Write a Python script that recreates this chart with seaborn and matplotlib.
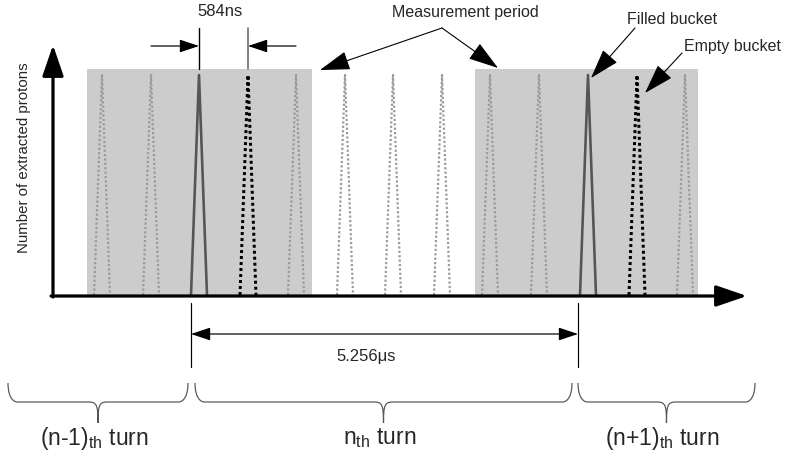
"""Bucket structure of the extracted beam: filled / empty buckets over three turns"""
import numpy as np
import pandas as pd
import seaborn as sns
from matplotlib import pyplot as plt
from matplotlib.patches import PathPatch, Rectangle
from matplotlib.path import Path

# bucket centres along the time axis (pixel units of the sketch) and their kind
bucket_x = [102, 151, 199, 248, 296, 345, 393, 442, 490, 539, 588, 637, 685]
bucket_kind = ["other", "other", "filled", "empty", "other", "other", "other",
               "other", "other", "other", "filled", "empty", "other"]
peak_y = 75
base_y = 295

# measurement windows (start, end)
windows = [(87, 312), (475, 698)]

# turn braces: (left, right, label)
turns = [(8, 188, r"(n-1)$_{\mathregular{th}}$ turn"),
         (195, 572, r"n$_{\mathregular{th}}$ turn"),
         (578, 755, r"(n+1)$_{\mathregular{th}}$ turn")]

bunch_spacing_label = "584ns"
revolution_label = "5.256\u03bcs"

PX = 72.0 / 100  # one pixel in points

sns.set_theme(style="white")
plt.rcParams["font.family"] = ["Liberation Sans", "DejaVu Sans"]
plt.rcParams["mathtext.fontset"] = "custom"
plt.rcParams["mathtext.rm"] = "Liberation Sans"

fig = plt.figure(figsize=(7.87, 4.58), dpi=100)
ax = fig.add_axes([0, 0, 1, 1])
ax.set_xlim(0, 787)
ax.set_ylim(458, 0)
ax.axis("off")

for x0, x1 in windows:
    ax.add_patch(Rectangle((x0, 69), x1 - x0, base_y - 69, color="#cccccc", lw=0, zorder=0))

rows = []
for i, (c, k) in enumerate(zip(bucket_x, bucket_kind)):
    for dx, y in [(-8, base_y), (0, peak_y), (8, base_y)]:
        rows.append({"bucket": i, "kind": k, "x": c + dx, "y": y})
df = pd.DataFrame(rows)

styles = {
    "other": dict(color="#9a9a9a", lw=2.2 * PX, ls=(0, (1, 1))),
    "empty": dict(color="black", lw=3 * PX, ls=(0, (1, 1))),
    "filled": dict(color="#555555", lw=2.6 * PX, ls="-"),
}
for kind, st in styles.items():
    sub = df[df["kind"] == kind]
    sns.lineplot(data=sub, x="x", y="y", units="bucket", estimator=None, sort=False,
                 color=st["color"], linewidth=st["lw"], linestyle=st["ls"], ax=ax,
                 legend=False, zorder=2)

# axes with arrow heads
head = dict(arrowstyle="-|>,head_length=1.9,head_width=0.65", mutation_scale=10,
            color="black", lw=3.2 * PX, shrinkA=0, shrinkB=0)
ax.annotate("", xy=(53, 45), xytext=(53, 297), arrowprops=head, zorder=3)
ax.annotate("", xy=(747, 296), xytext=(51, 296), arrowprops=head, zorder=3)
ax.text(24, 158, "Number of extracted protons", rotation=90, ha="center", va="center",
        fontsize=10.8)

# bunch spacing
small = dict(arrowstyle="-|>,head_length=1.2,head_width=0.4", mutation_scale=10,
             color="black", lw=1.2 * PX, shrinkA=0, shrinkB=0)
ax.plot([199, 199], [28, 69], color="black", lw=1.4 * PX)
ax.plot([248, 248], [28, 69], color="#666666", lw=1.6 * PX)
ax.annotate("", xy=(199, 46), xytext=(151, 46), arrowprops=small)
ax.annotate("", xy=(248, 46), xytext=(296, 46), arrowprops=small)
ax.text(220, 12, bunch_spacing_label, ha="center", va="center", fontsize=12)

# callouts
thin = dict(arrowstyle="-|>,head_length=1.9,head_width=0.6", mutation_scale=10,
            color="black", lw=1.1 * PX, shrinkA=0, shrinkB=0)
ax.text(465, 13, "Measurement period", ha="center", va="center", fontsize=11.5)
ax.annotate("", xy=(320, 70), xytext=(442, 28), arrowprops=thin)
ax.annotate("", xy=(498, 68), xytext=(442, 28), arrowprops=thin)
ax.text(672, 20, "Filled bucket", ha="center", va="center", fontsize=11.5)
ax.annotate("", xy=(591, 78), xytext=(635, 28), arrowprops=thin)
ax.text(732, 46, "Empty bucket", ha="center", va="center", fontsize=11.5)
ax.annotate("", xy=(645, 93), xytext=(682, 53), arrowprops=thin)

# revolution period
ax.plot([191, 191], [303, 367], color="black", lw=1.2 * PX)
ax.plot([578, 578], [303, 367], color="black", lw=1.2 * PX)
dbl = dict(arrowstyle="<|-|>,head_length=1.2,head_width=0.4", mutation_scale=10,
           color="black", lw=1.2 * PX, shrinkA=0, shrinkB=0)
ax.annotate("", xy=(578, 334), xytext=(191, 334), arrowprops=dbl)
ax.text(366, 357, revolution_label, ha="center", va="center", fontsize=12)


def brace(x0, x1, top=383, mid=402, tip=423, r=9):
    xm = (x0 + x1) / 2
    verts = [(x0, top), (x0, mid), (x0 + r, mid), (x0 + r, mid),
             (xm - r, mid), (xm - 1, mid), (xm, mid + 4), (xm, tip),
             (xm, mid + 4), (xm + 1, mid), (xm + r, mid),
             (x1 - r, mid), (x1 - r, mid), (x1, mid), (x1, top)]
    codes = [Path.MOVETO, Path.CURVE4, Path.CURVE4, Path.CURVE4,
             Path.LINETO, Path.CURVE4, Path.CURVE4, Path.CURVE4,
             Path.CURVE4, Path.CURVE4, Path.CURVE4,
             Path.LINETO, Path.CURVE4, Path.CURVE4, Path.CURVE4]
    ax.add_patch(PathPatch(Path(verts, codes), fill=False, ec="#555555", lw=1.2 * PX))
    return xm


for x0, x1, label in turns:
    xm = brace(x0, x1)
    ax.text(xm - 4, 438, label, ha="center", va="center", fontsize=16.5)

fig.savefig("out.png", dpi=100)
